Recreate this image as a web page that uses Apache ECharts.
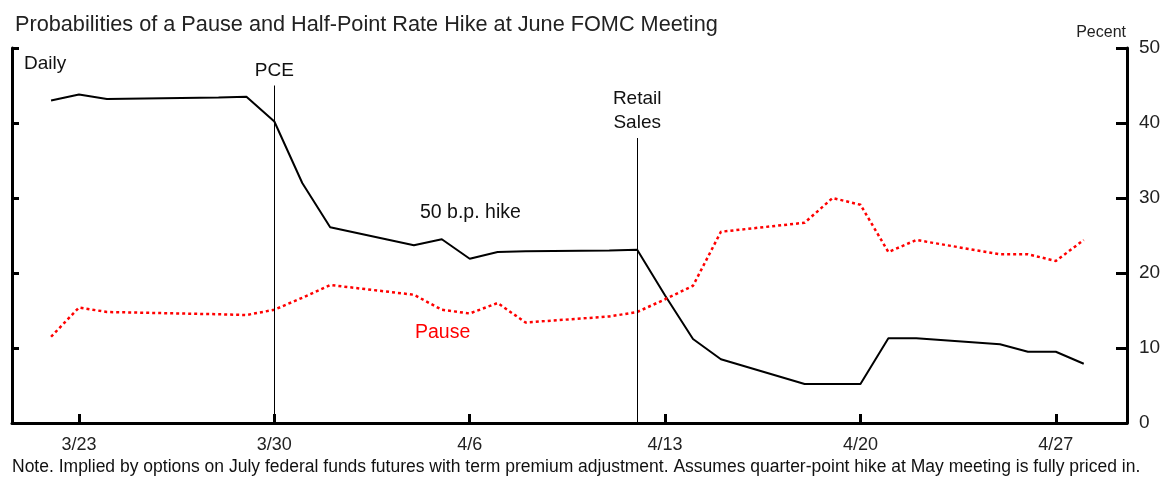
<!DOCTYPE html>
<html>
<head>
<meta charset="utf-8">
<script src="https://cdn.jsdelivr.net/npm/echarts@6/dist/echarts.min.js"></script>
<style>
  html, body { margin: 0; padding: 0; background: #fff; }
  #chart { width: 1168px; height: 478px; }
</style>
</head>
<body>
<div id="chart"></div>
<script>
// dates (2005 trading days), values in percent
var dates = ['3/22','3/23','3/24','3/28','3/29','3/30','3/31','4/1','4/4','4/5','4/6','4/7','4/8',
             '4/11','4/12','4/13','4/14','4/15','4/18','4/19','4/20','4/21','4/22','4/25','4/26','4/27','4/28'];
var hike50 = [43.0, 43.8, 43.2, 43.4, 43.5, 40.2, 32.0, 26.1, 23.7, 24.5, 21.9, 22.8, 22.9,
              23.0, 23.1, 17.0, 11.2, 8.5, 5.2, 5.2, 5.2, 11.3, 11.3, 10.5, 9.5, 9.5, 7.9];
var pause = [11.5, 15.4, 14.8, 14.5, 14.4, 15.1, 16.7, 18.4, 17.1, 15.1, 14.6, 16.0, 13.4,
             14.2, 14.8, 16.5, 18.3, 25.5, 26.7, 30.0, 29.1, 22.8, 24.4, 22.5, 22.5, 21.6, 24.4];
var tickLabels = ['3/23', '3/30', '4/6', '4/13', '4/20', '4/27'];
var events = [{ date: '3/30', name: 'PCE', top: 45 }, { date: '4/12', name: 'Retail\nSales', top: 38 }];

var FONT = '"Liberation Sans", Arial, sans-serif';

// day offset from 3/23
function day(s) {
  var p = s.split('/');
  return (Date.UTC(2005, +p[0] - 1, +p[1]) - Date.UTC(2005, 2, 23)) / 86400000;
}
var tickDays = tickLabels.map(day);

function pairs(vals) {
  return dates.map(function (d, i) { return [day(d), vals[i]]; });
}

var chart = echarts.init(document.getElementById('chart'));
chart.setOption({
  animation: false,
  backgroundColor: '#fff',
  textStyle: { fontFamily: FONT },
  title: {
    text: 'Probabilities of a Pause and Half-Point Rate Hike at June FOMC Meeting',
    left: 10, top: 9,
    textStyle: { fontSize: 21.7, fontWeight: 'normal', color: '#222', fontFamily: FONT }
  },
  grid: { left: 12, right: 41, top: 48, bottom: 55 },
  xAxis: {
    type: 'value',
    min: -2.4, max: 37.55,
    splitLine: { show: false },
    axisLine: { lineStyle: { color: '#000', width: 3 } },
    axisTick: { inside: true, length: 9, lineStyle: { color: '#000', width: 3 }, customValues: tickDays },
    axisLabel: {
      customValues: tickDays, margin: 13, fontSize: 18, color: '#222', fontFamily: FONT,
      formatter: function (v) { return tickLabels[tickDays.indexOf(v)]; }
    }
  },
  yAxis: [{
    type: 'value', position: 'left', min: 0, max: 50, interval: 10,
    splitLine: { show: false },
    axisLine: { show: true, onZero: false, lineStyle: { color: '#000', width: 3 } },
    axisTick: { show: true, inside: true, length: 7, lineStyle: { color: '#000', width: 3 } },
    axisLabel: { show: false }
  }, {
    type: 'value', position: 'right', min: 0, max: 50, interval: 10,
    splitLine: { show: false },
    axisLine: { show: true, onZero: false, lineStyle: { color: '#000', width: 3 } },
    axisTick: { show: true, inside: true, length: 11, lineStyle: { color: '#000', width: 3 } },
    axisLabel: { margin: 12, fontSize: 19, color: '#222', fontFamily: FONT }
  }],
  series: [{
    name: '50 b.p. hike',
    type: 'line',
    yAxisIndex: 1,
    data: pairs(hike50),
    showSymbol: false,
    lineStyle: { color: '#000', width: 2 },
    markLine: {
      silent: true,
      symbol: ['none', 'none'],
      lineStyle: { color: '#000', width: 1, type: 'solid' },
      label: { show: true, position: 'end', distance: 3, fontSize: 19, lineHeight: 24, color: '#111', fontFamily: FONT, formatter: '{b}' },
      data: events.map(function (e) {
        return [{ name: e.name, coord: [day(e.date), 0] }, { coord: [day(e.date), e.top] }];
      })
    }
  }, {
    name: 'Pause',
    type: 'line',
    yAxisIndex: 1,
    data: pairs(pause),
    showSymbol: false,
    lineStyle: { color: '#ff0000', width: 2.5, type: [3, 3] }
  }],
  graphic: [
    { type: 'text', left: 24, top: 54, style: { text: 'Daily', fill: '#111', font: '19px ' + FONT } },
    { type: 'text', left: 420, top: 203, style: { text: '50 b.p. hike', fill: '#111', font: '19.5px ' + FONT } },
    { type: 'text', left: 415, top: 323, style: { text: 'Pause', fill: '#ff0000', font: '19.5px ' + FONT } },
    { type: 'text', right: 42, top: 25, style: { text: 'Pecent', fill: '#222', font: '16px ' + FONT } },
    { type: 'text', left: 12, top: 458, style: { text: 'Note. Implied by options on July federal funds futures with term premium adjustment. Assumes quarter-point hike at May meeting is fully priced in.', fill: '#111', font: '17.5px ' + FONT } }
  ]
});
</script>
</body>
</html>
